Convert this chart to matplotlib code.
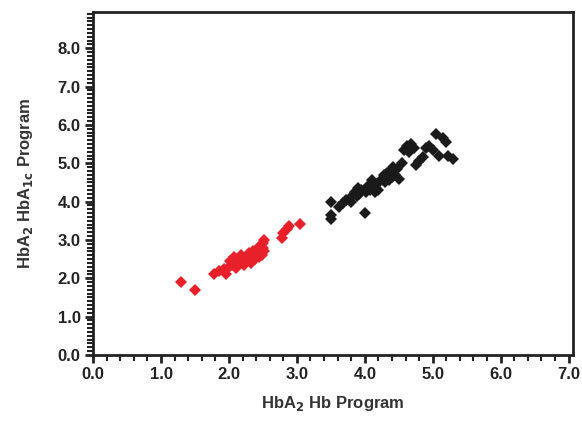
import matplotlib
matplotlib.use("Agg")
import matplotlib.pyplot as plt
from matplotlib.ticker import MultipleLocator

plt.rcParams['font.family'] = ['Liberation Sans', 'DejaVu Sans']

# red group (x = HbA2 Hb program, y = HbA2 HbA1c program)
red_x = [1.30, 1.50, 1.78, 1.85, 1.92, 1.95, 2.00, 2.02, 2.05, 2.08, 2.10, 2.12, 2.15,
         2.18, 2.20, 2.22, 2.25, 2.28, 2.30, 2.32, 2.33, 2.35, 2.38, 2.40, 2.42, 2.44,
         2.45, 2.47, 2.48, 2.50, 2.50, 2.52, 2.52, 2.78, 2.80, 2.85, 2.88, 3.05]
red_y = [1.90, 1.70, 2.12, 2.20, 2.25, 2.12, 2.30, 2.45, 2.35, 2.55, 2.28, 2.50, 2.40,
         2.60, 2.45, 2.35, 2.55, 2.48, 2.65, 2.40, 2.58, 2.70, 2.50, 2.62, 2.75, 2.55,
         2.85, 2.68, 2.60, 2.78, 2.92, 3.00, 2.70, 3.05, 3.18, 3.28, 3.35, 3.42]

# black group
black_x = [3.50, 3.50, 3.50, 3.62, 3.68, 3.72, 3.78, 3.80, 3.85, 3.88, 3.90, 3.92, 3.95,
           4.00, 4.02, 4.05, 4.08, 4.10, 4.12, 4.15, 4.18, 4.20, 4.25, 4.28, 4.30, 4.32,
           4.35, 4.38, 4.40, 4.42, 4.45, 4.48, 4.50, 4.55, 4.58, 4.62, 4.65, 4.68, 4.72,
           4.75, 4.80, 4.85, 4.90, 4.95, 5.00, 5.05, 5.10, 5.15, 5.20, 5.22, 5.30]
black_y = [3.55, 3.65, 3.98, 3.85, 3.95, 4.05, 4.10, 4.00, 4.25, 4.15, 4.35, 4.20, 4.30,
           3.70, 4.25, 4.40, 4.30, 4.55, 4.35, 4.25, 4.45, 4.30, 4.60, 4.70, 4.50, 4.75,
           4.55, 4.80, 4.65, 4.90, 4.70, 4.85, 4.60, 5.00, 5.35, 5.45, 5.30, 5.50, 5.40,
           4.95, 5.05, 5.15, 5.40, 5.45, 5.35, 5.75, 5.20, 5.65, 5.55, 5.20, 5.10]

x_ticks = [0, 1, 2, 3, 4, 5, 6, 7]
y_ticks = [0, 1, 2, 3, 4, 5, 6, 7, 8]

fig = plt.figure(figsize=(5.82, 4.21), dpi=100)
ax = fig.add_axes([0.160, 0.157, 0.825, 0.814])

ax.plot(red_x, red_y, 'D', color='#e8202a', markersize=6, markeredgewidth=0)
ax.plot(black_x, black_y, 'D', color='#1a1a1a', markersize=6, markeredgewidth=0)

ax.set_xlim(0, 7.07)
ax.set_ylim(0, 8.94)
ax.set_xticks(x_ticks)
ax.set_yticks(y_ticks)
ax.set_xticklabels(["%.1f" % v for v in x_ticks], fontweight='bold', fontsize=12)
ax.set_yticklabels(["%.1f" % v for v in y_ticks], fontweight='bold', fontsize=12)
ax.xaxis.set_minor_locator(MultipleLocator(0.2))
ax.yaxis.set_minor_locator(MultipleLocator(0.1))
ax.tick_params(which='major', direction='out', length=6, width=2, color='#222222')
ax.tick_params(which='minor', direction='out', length=4, width=1.5, color='#222222')
ax.tick_params(axis='both', pad=3, labelcolor='#222222')

for s in ax.spines.values():
    s.set_linewidth(2)
    s.set_color('#222222')

ax.set_xlabel(r'HbA$_{\mathbf{2}}$ Hb Program', fontweight='bold', fontsize=12,
              color='#333333', labelpad=8)
ax.set_ylabel(r'HbA$_{\mathbf{2}}$ HbA$_{\mathbf{1c}}$ Program', fontweight='bold',
              fontsize=12, color='#333333', labelpad=16)

fig.savefig('out.png', dpi=100)
